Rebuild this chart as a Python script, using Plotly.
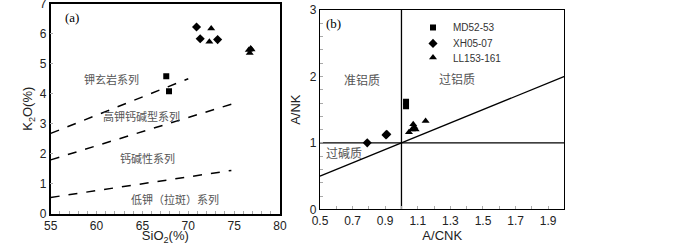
import plotly.graph_objects as go

# ---- Panel (a): SiO2 vs K2O ----
a_md_sio2 = [67.6, 67.9]
a_md_k2o = [4.58, 4.08]
a_xh_sio2 = [70.9, 71.3, 73.2]
a_xh_k2o = [6.22, 5.83, 5.80]
a_ll_sio2 = [72.5, 72.3, 76.6, 76.8, 76.7, 76.9]
a_ll_k2o = [6.17, 5.73, 5.45, 5.50, 5.35, 5.47]

# boundary lines (SiO2, K2O)
b1_x = [55, 70]; b1_y = [2.68, 4.50]
b2_x = [55, 75]; b2_y = [1.80, 3.68]
b3_x = [55, 74.7]; b3_y = [0.55, 1.45]

a_labels = ["钾玄岩系列", "高钾钙碱型系列", "钙碱性系列", "低钾（拉斑）系列"]
a_label_x = [61.6, 64.9, 65.6, 68.5]
a_label_y = [4.5, 3.25, 1.85, 0.5]

# ---- Panel (b): A/CNK vs A/NK ----
b_md_acnk = [1.028, 1.028]
b_md_ank = [1.55, 1.62]
b_xh_acnk = [0.79, 0.905, 0.91]
b_xh_ank = [1.0, 1.12, 1.13]
b_ll_acnk = [1.046, 1.072, 1.064, 1.087, 1.079, 1.148]
b_ll_ank = [1.16, 1.28, 1.20, 1.20, 1.24, 1.33]

b_labels = ["准铝质", "过铝质", "过碱质"]
b_label_x = [0.755, 1.34, 0.65]
b_label_y = [1.95, 1.97, 0.85]

series_names = ["MD52-53", "XH05-07", "LL153-161"]

fig = go.Figure()

mk = dict(color="black")
# panel a points
fig.add_trace(go.Scatter(x=a_md_sio2, y=a_md_k2o, mode="markers", xaxis="x", yaxis="y",
                         marker=dict(symbol="square", size=6, **mk), showlegend=False))
fig.add_trace(go.Scatter(x=a_xh_sio2, y=a_xh_k2o, mode="markers", xaxis="x", yaxis="y",
                         marker=dict(symbol="diamond", size=7, **mk), showlegend=False))
fig.add_trace(go.Scatter(x=a_ll_sio2, y=a_ll_k2o, mode="markers", xaxis="x", yaxis="y",
                         marker=dict(symbol="triangle-up", size=7, **mk), showlegend=False))
for bx, by in [(b1_x, b1_y), (b2_x, b2_y), (b3_x, b3_y)]:
    fig.add_trace(go.Scatter(x=bx, y=by, mode="lines", xaxis="x", yaxis="y",
                             line=dict(color="black", width=1.5, dash="dash"), showlegend=False))

# panel b reference lines
fig.add_trace(go.Scatter(x=[1, 1], y=[0, 3], mode="lines", xaxis="x2", yaxis="y2",
                         line=dict(color="black", width=1.3), showlegend=False))
fig.add_trace(go.Scatter(x=[0.5, 2.0], y=[1, 1], mode="lines", xaxis="x2", yaxis="y2",
                         line=dict(color="black", width=1.3), showlegend=False))
fig.add_trace(go.Scatter(x=[0.5, 2.0], y=[0.5, 2.0], mode="lines", xaxis="x2", yaxis="y2",
                         line=dict(color="black", width=1.3), showlegend=False))
# panel b points (one legend each so spacing can match)
fig.add_trace(go.Scatter(x=b_md_acnk, y=b_md_ank, mode="markers", xaxis="x2", yaxis="y2",
                         name=series_names[0], legend="legend",
                         marker=dict(symbol="square", size=6, **mk)))
fig.add_trace(go.Scatter(x=b_xh_acnk, y=b_xh_ank, mode="markers", xaxis="x2", yaxis="y2",
                         name=series_names[1], legend="legend2",
                         marker=dict(symbol="diamond", size=7, **mk)))
fig.add_trace(go.Scatter(x=b_ll_acnk, y=b_ll_ank, mode="markers", xaxis="x2", yaxis="y2",
                         name=series_names[2], legend="legend3",
                         marker=dict(symbol="triangle-up", size=7, **mk)))

annotations = []
cjk = "Noto Sans CJK SC"
for t, x, y in zip(a_labels, a_label_x, a_label_y):
    annotations.append(dict(text=t, x=x, y=y, xref="x", yref="y", showarrow=False,
                            font=dict(family=cjk, size=11, color="#555555")))
annotations.append(dict(text="(a)", x=57.3, y=6.55, xref="x", yref="y", showarrow=False,
                        font=dict(family="Liberation Serif", size=13, color="black")))
for t, x, y in zip(b_labels, b_label_x, b_label_y):
    annotations.append(dict(text=t, x=x, y=y, xref="x2", yref="y2", showarrow=False,
                            font=dict(family=cjk, size=12, color="#555555")))
annotations.append(dict(text="(b)", x=0.58, y=2.8, xref="x2", yref="y2", showarrow=False,
                        font=dict(family="Liberation Serif", size=13, color="black")))

tickfont = dict(family="Liberation Sans", size=12, color="#222222")
titlefont = dict(family="Liberation Sans", size=13, color="#222222")

leg_common = dict(x=0.59, xanchor="left", yanchor="top", bgcolor="rgba(0,0,0,0)",
                  font=dict(family="Liberation Sans", size=10, color="#333333"),
                  itemwidth=30, tracegroupgap=0)

fig.update_layout(
    width=700, height=245,
    margin=dict(l=0, r=0, t=0, b=0, autoexpand=False),
    paper_bgcolor="white", plot_bgcolor="white",
    annotations=annotations,
    showlegend=True,
    legend=dict(y=0.947, **leg_common),
    legend2=dict(y=0.882, **leg_common),
    legend3=dict(y=0.824, **leg_common),
    xaxis=dict(domain=[0.0724, 0.4], range=[55, 80], tickvals=[55, 60, 65, 70, 75, 80],
               ticks="inside", ticklen=3, tickcolor="#aaaaaa", showgrid=False, zeroline=False,
               showline=True, linecolor="black", linewidth=1.6, mirror=True, automargin=False,
               ticklabeloverflow="allow",
               tickfont=tickfont, title=dict(text="SiO<sub>2</sub>(%)", font=titlefont, standoff=2),
               anchor="y", minor=dict(ticks="inside", ticklen=3, tickcolor="#aaaaaa", dtick=1)),
    yaxis=dict(domain=[0.1265, 0.9857], range=[0, 7], dtick=1,
               ticks="inside", ticklen=3, tickcolor="#aaaaaa", showgrid=False, zeroline=False,
               showline=True, linecolor="black", linewidth=1.6, mirror=True, automargin=False,
               ticklabeloverflow="allow",
               tickfont=tickfont, title=dict(text="K<sub>2</sub>O(%)", font=titlefont, standoff=4),
               anchor="x"),
    xaxis2=dict(domain=[0.4571, 0.8064], range=[0.5, 2.0],
                tickvals=[0.5, 0.7, 0.9, 1.1, 1.3, 1.5, 1.7, 1.9],
                ticktext=["0.5", "0.7", "0.9", "1.1", "1.3", "1.5", "1.7", "1.9"],
                ticks="inside", ticklen=3, tickcolor="#aaaaaa", showgrid=False, zeroline=False,
                showline=True, linecolor="black", linewidth=1.3, mirror=True, automargin=False,
                ticklabeloverflow="allow",
                tickfont=tickfont, title=dict(text="A/CNK", font=titlefont, standoff=4),
                anchor="y2", minor=dict(ticks="inside", ticklen=3, tickcolor="#aaaaaa", dtick=0.1)),
    yaxis2=dict(domain=[0.1457, 0.9592], range=[0, 3], dtick=1,
                ticks="inside", ticklen=3, tickcolor="#aaaaaa", showgrid=False, zeroline=False,
                showline=True, linecolor="black", linewidth=1.3, mirror=True, automargin=False,
                ticklabeloverflow="allow",
                tickfont=tickfont, title=dict(text="A/NK", font=titlefont, standoff=6),
                anchor="x2", minor=dict(ticks="inside", ticklen=3, tickcolor="#aaaaaa", dtick=0.2)),
)

fig.write_html("out.html", config={"displayModeBar": False},
               post_script="document.body.style.margin='0';document.body.style.overflow='hidden';")
